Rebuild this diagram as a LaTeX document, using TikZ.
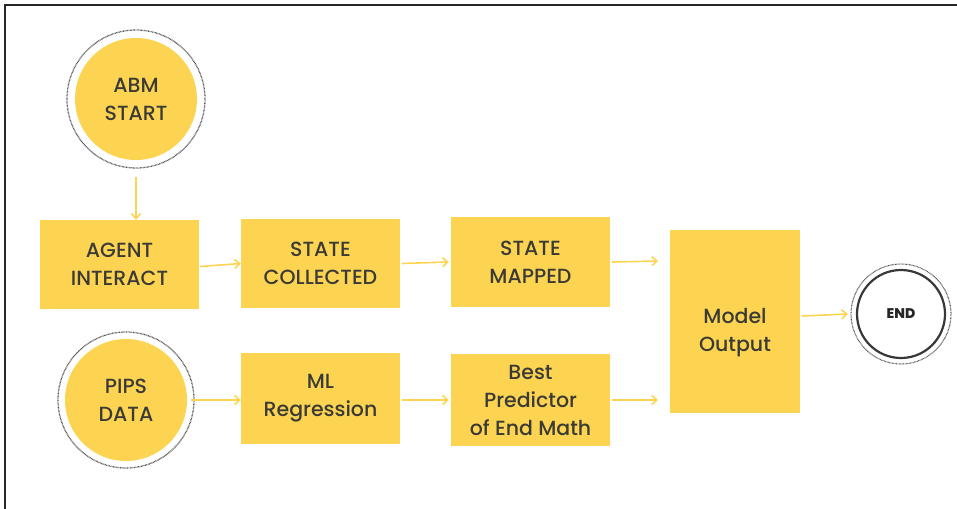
\documentclass[tikz,border=0pt]{standalone}
\usepackage{fontspec}
\setmainfont{Poppins Medium}
\definecolor{ylw}{HTML}{FDD452}
\definecolor{txt}{HTML}{3A3A36}
\begin{document}
\begin{tikzpicture}[x=1pt,y=-1pt,
  box/.style={fill=ylw,draw=none,inner sep=0pt,text=txt,align=center,font=\fontsize{20.5}{28}\selectfont},
  disc/.style={circle,fill=ylw,minimum size=122pt,inner sep=0pt,text=txt,align=center,font=\fontsize{20.5}{28}\selectfont},
  ring/.style={draw=black!70,line width=1.3pt,dash pattern=on 0.7pt off 0.7pt},
  conn/.style={draw=ylw,line width=1.6pt,-{Straight Barb[length=5pt,width=9pt]}}
]
\usetikzlibrary{arrows.meta}
\useasboundingbox (0,0) rectangle (957,508);
\draw[line width=1.5pt,black!85] (5,520) -- (5,5) -- (970,5);
% start circles
\node[disc] (abm) at (136,99) {ABM\\START};
\draw[ring] (abm.center) circle (69);
\node[disc] (pips) at (126,400) {PIPS\\DATA};
\draw[ring] (pips.center) circle (68);
% boxes
\node[box,minimum width=159pt,minimum height=89pt] (agent) at (119.5,264.5) {AGENT\\INTERACT};
\node[box,minimum width=159pt,minimum height=89pt] (coll) at (320.5,263.5) {STATE\\COLLECTED};
\node[box,minimum width=159pt,minimum height=90pt] (mapped) at (530.5,262) {STATE\\MAPPED};
\node[box,minimum width=130pt,minimum height=183pt,
  label={[box,fill=none,yshift=-11pt]center:{Model\\Output}}] (out) at (735,321.5) {};
\node[box,minimum width=159pt,minimum height=91pt] (ml) at (320.5,398.5) {ML\\Regression};
\node[box,minimum width=159pt,minimum height=92pt] (best) at (530.5,400) {Best\\Predictor\\of End Math};
% end
\node[circle,draw=black!78,line width=2.2pt,minimum size=88pt,inner sep=0pt,font=\fontsize{14}{16}\bfseries\selectfont,text=black!85] (end) at (901,314) {END};
\draw[ring,line width=1.1pt] (end.center) circle (50);
% connector free ends
\coordinate (m1) at (658,261);
\coordinate (m2) at (658,400);
% connectors
\draw[conn] ([yshift=-17pt]abm.south) -- (abm.south |- agent.north);
\draw[conn] (agent.east) ++(1,2) -- (coll.west);
\draw[conn] (coll.east) ++(2,0) -- ([xshift=-2pt]mapped.west);
\draw[conn] (mapped.east) ++(2,0) -- (m1);
\draw[conn] (best.east) ++(2,0) -- (m2);
\draw[conn] (pips.east) ++(4,0) -- (ml.west |- pips.east);
\draw[conn] (ml.east) ++(2,1.5) -- ([xshift=-2pt]best.west);
\draw[conn] (out.east) ++(2,-5.5) -- ([xshift=-8pt]end.west);
\end{tikzpicture}
\end{document}
